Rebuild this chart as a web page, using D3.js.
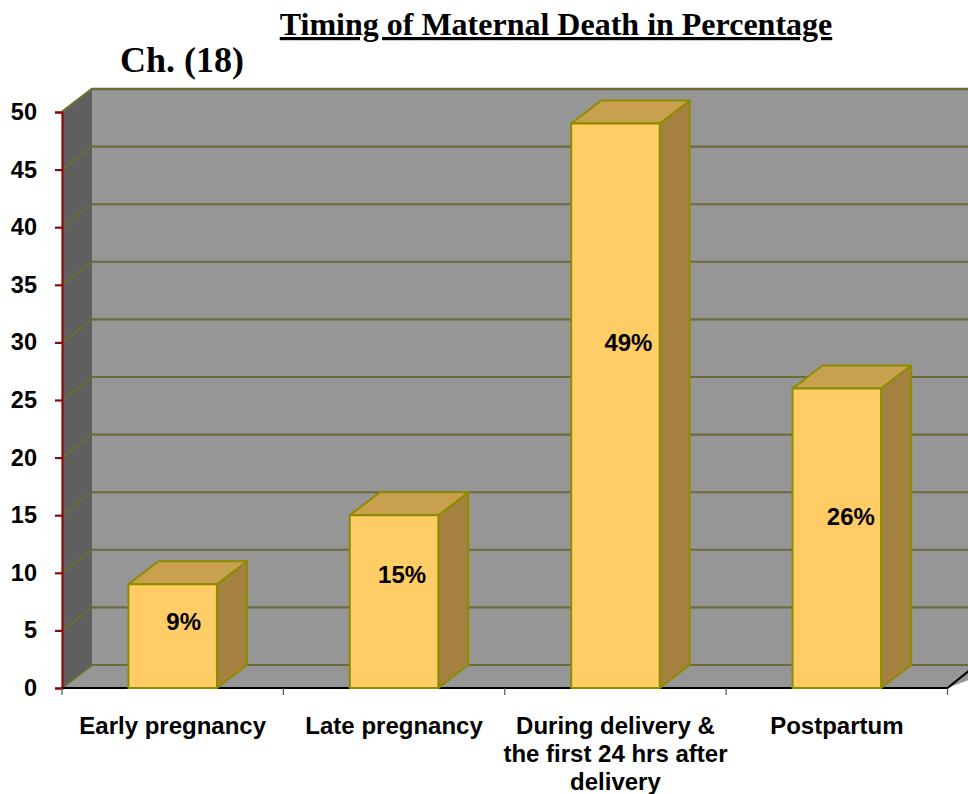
<!DOCTYPE html>
<html><head><meta charset="utf-8">
<script src="https://cdn.jsdelivr.net/npm/d3@7"></script>
<style>html,body{margin:0;padding:0;background:#fff;overflow:hidden}svg{display:block}</style></head>
<body><svg id="c" width="968" height="794"></svg>
<script>
const categories=["Early pregnancy","Late pregnancy","During delivery &|the first 24 hrs after|delivery","Postpartum"];
const seriesValues=[9,15,49,26];
const valueLabels=["9%","15%","49%","26%"];
const yTicks=[0,5,10,15,20,25,30,35,40,45,50];
const titleText="Timing of Maternal Death in Percentage";
const subtitleText="Ch. (18)";

const svg=d3.select("#c");
const W=968,dx=30,dy=-23;
const y=d3.scaleLinear().domain([0,50]).range([688,112]);
const x=d3.scaleBand().domain(categories).range([62,947.5]).paddingInner(0.6).paddingOuter(0.3);
const band=d3.scaleBand().domain(categories).range([62,947.5]);
const poly=(g,p,f,s,w)=>g.append("polygon").attr("points",p.map(d=>d.join(",")).join(" ")).attr("fill",f).attr("stroke",s||"none").attr("stroke-width",w||0).attr("stroke-linejoin","round");
const g=svg.append("g");
const x0=x.range()[0],xEnd=x.range()[1],gridCol="#6b6b3c";
poly(g,[[x0+dx,y(50)+dy],[W+5,y(50)+dy],[W+5,y(0)+dy],[x0+dx,y(0)+dy]],"#969696");
poly(g,[[x0,y(50)],[x0+dx,y(50)+dy],[x0+dx,y(0)+dy],[x0,y(0)]],"#5f5f5f");
poly(g,[[x0,y(0)],[x0+dx,y(0)+dy],[W+40,y(0)+dy],[xEnd,y(0)]],"#969696");
yTicks.forEach(t=>{
  const py=y(t);
  g.append("path").attr("d",`M${x0},${py}L${x0+dx},${py+dy}L${W},${py+dy}`).attr("fill","none").attr("stroke",gridCol).attr("stroke-width",t===50?2.6:2.1);
});
const yAxis=svg.append("g").attr("transform",`translate(${x0},0)`).call(d3.axisLeft(y).tickValues(yTicks).tickSize(7).tickPadding(18));
yAxis.select(".domain").attr("stroke","#8b0a0a").attr("stroke-width",2.2);
yAxis.selectAll(".tick line").attr("stroke","#8b0a0a").attr("stroke-width",2.2);
yAxis.selectAll("text").attr("font-family","'Liberation Sans',Arial,sans-serif").attr("font-weight","bold").attr("font-size",23.5).attr("fill","#000");
svg.append("path").attr("d",`M${x0},${y(0)}H${xEnd}L${W+1},${y(0)+dy*0.75}`).attr("fill","none").attr("stroke","#000").attr("stroke-width",2.2);
svg.append("g").selectAll("line").data(d3.range(0,5)).join("line")
 .attr("x1",i=>x0+i*band.bandwidth()).attr("x2",i=>x0+i*band.bandwidth())
 .attr("y1",y(0)).attr("y2",y(0)+7).attr("stroke","#555").attr("stroke-width",1.2);
const bars=svg.append("g");
const bs="#8c8c00";
categories.forEach((c,i)=>{
  const l=x(c),r=l+x.bandwidth(),t=y(seriesValues[i]),b=y(0);
  poly(bars,[[r,t],[r+dx,t+dy],[r+dx,b+dy],[r,b]],"#a5813f",bs,2);
  poly(bars,[[l,t],[l+dx,t+dy],[r+dx,t+dy],[r,t]],"#c9a04e",bs,2);
  poly(bars,[[l,t],[r,t],[r,b],[l,b]],"#ffcc66",bs,2);
});
const labelOffset=[[11,-15],[8,-27.5],[13,-63],[14,-22]];
svg.append("g").selectAll("text").data(valueLabels).join("text")
 .attr("x",(d,i)=>x(categories[i])+x.bandwidth()/2+labelOffset[i][0])
 .attr("y",(d,i)=>(y(seriesValues[i])+y(0))/2+labelOffset[i][1])
 .attr("dy","0.36em").attr("text-anchor","middle")
 .attr("font-family","'Liberation Sans',Arial,sans-serif").attr("font-weight","bold").attr("font-size",24).attr("fill","#000").text(d=>d);
const cat=svg.append("g");
categories.forEach(c=>{
  const t=cat.append("text").attr("text-anchor","middle").attr("font-family","'Liberation Sans',Arial,sans-serif").attr("font-weight","bold").attr("font-size",24).attr("fill","#000");
  c.split("|").forEach((s,j)=>t.append("tspan").attr("x",x(c)+x.bandwidth()/2).attr("y",734+j*28).text(s));
});
svg.append("text").attr("x",556).attr("y",35).attr("text-anchor","middle").attr("font-family","'Liberation Serif','Times New Roman',serif").attr("font-weight","bold").attr("font-size",32).attr("text-decoration","underline").attr("fill","#000").text(titleText);
svg.append("text").attr("x",120).attr("y",71.5).attr("font-family","'Liberation Serif','Times New Roman',serif").attr("font-weight","bold").attr("font-size",36).attr("fill","#000").text(subtitleText);
</script></body></html>
